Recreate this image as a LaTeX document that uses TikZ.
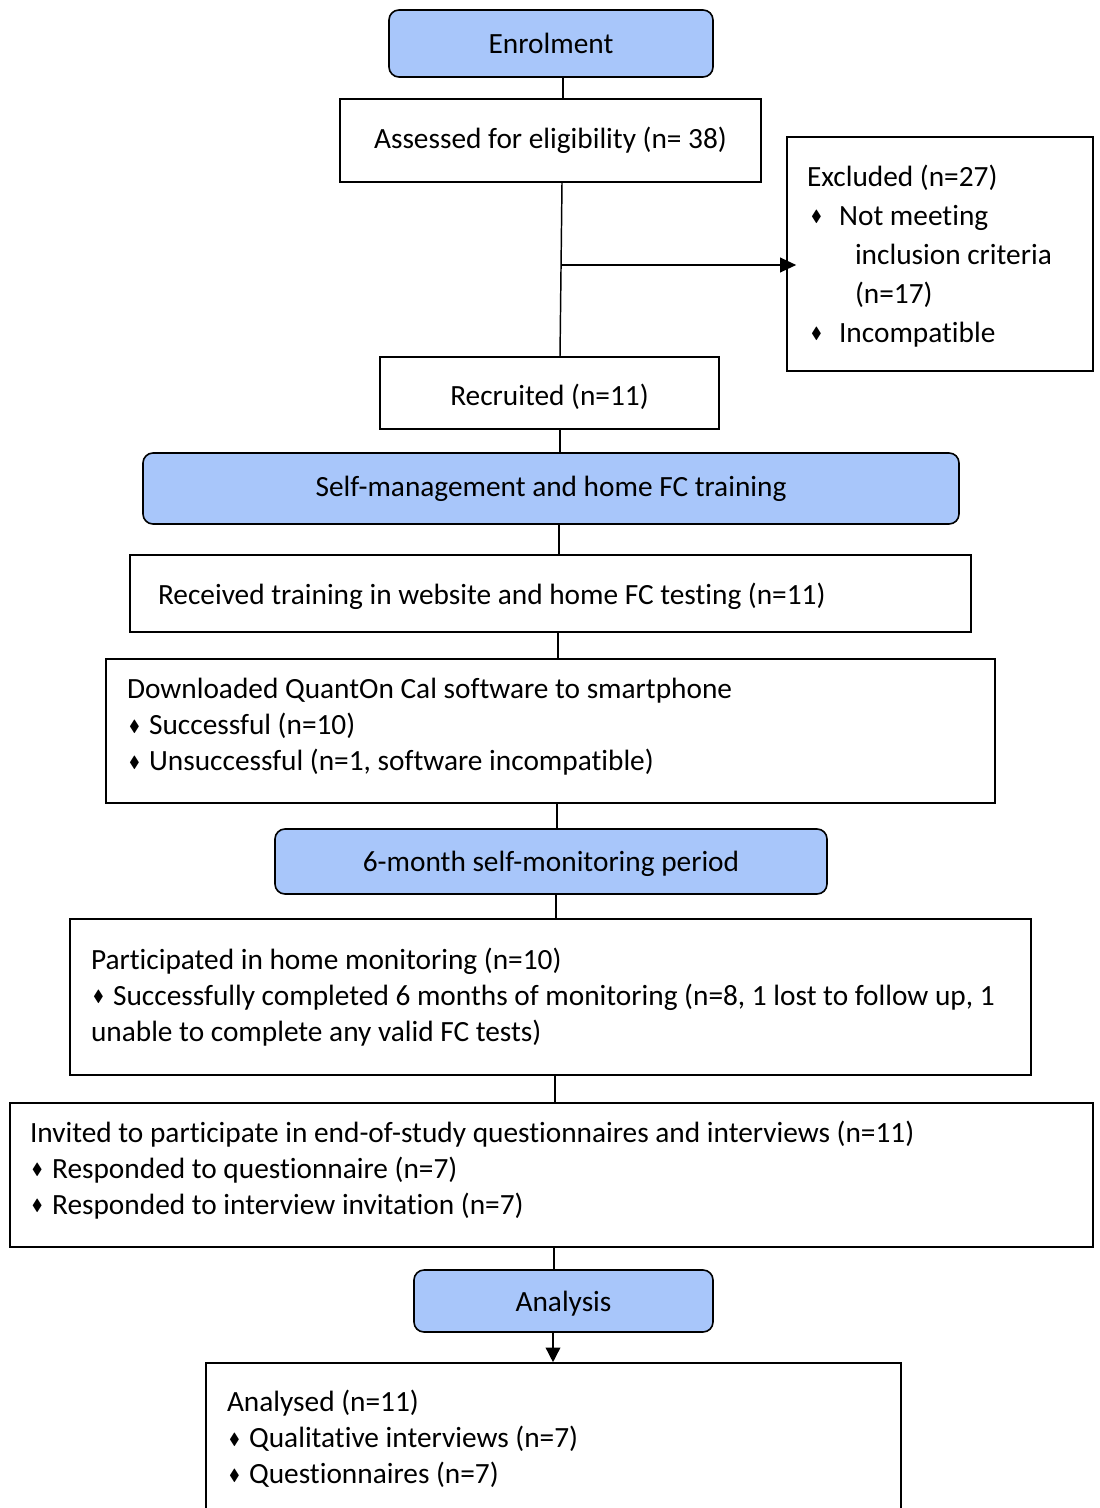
\documentclass[tikz,border=0pt]{standalone}
\usepackage{amssymb}
\usepackage{fontspec}
\setmainfont{Carlito}[Ligatures=NoCommon]
\usetikzlibrary{arrows.meta}
\definecolor{stageblue}{RGB}{168,198,250}
\newcommand{\dmd}{\raisebox{0.25ex}{\scalebox{0.55}{$\blacklozenge$}}}
\newcommand{\bitem}{\hspace*{1.5pt}\dmd\hspace{7pt}}
\newcommand{\padbot}[1]{\par\vspace{#1}\hrule height 0pt}

\begin{document}
\begin{tikzpicture}[x=0.75pt,y=0.75pt,yscale=-1,xscale=1,
  every node/.style={font=\fontsize{22}{27}\selectfont},
  stage/.style={draw, fill=stageblue, rounded corners=7.5pt, line width=1.2pt, inner sep=0pt},
  box/.style={draw, line width=1.2pt, inner sep=0pt},
  listbox/.style={box, align=flush left},
  link/.style={line width=1.1pt}]
            %set diagram left start at 0, and has height of 1508
            \useasboundingbox (0,0) rectangle (1099,1508);

            %Shape: Rounded Rect [id:enrol]
            \node [stage, minimum width=243pt, minimum height=50.25pt] (enrol) at (551,43.5) {Enrolment};
            %Shape: Rectangle [id:assess]
            \node [box, minimum width=315.75pt, minimum height=62.25pt] (assess) at (550.5,140.5) {Assessed for eligibility (n= 38)};
            %Shape: Rectangle [id:excl]
            \node [listbox, minimum width=229.5pt, minimum height=175.5pt, text width=199.5pt,
              font=\fontsize{22}{29.25}\selectfont] (excl) at (940,254)
              {Excluded (n=27)\\
               \hspace*{3pt}\dmd\hspace{13pt}Not meeting\\
               \hspace*{36pt}inclusion criteria\\
               \hspace*{36pt}(n=17)\\
               \hspace*{3pt}\dmd\hspace{13pt}Incompatible\padbot{-3pt}};
            %Shape: Rectangle [id:recr]
            \node [box, minimum width=254.25pt, minimum height=54pt, text height=18.8pt, text depth=0pt] (recr) at (549.5,393) {Recruited (n=11)};

            %Shape: Rounded Rect [id:selfm]
            \node [stage, minimum width=612pt, minimum height=53.25pt] (selfm) at (551,488.5) {Self-management and home FC training};
            %Shape: Rectangle [id:recv]
            \node [listbox, minimum width=630.75pt, minimum height=57.75pt, text width=588.75pt] (recv) at (550.5,593.5)
              {Received training in website and home FC testing (n=11)\padbot{-4.5pt}};
            %Shape: Rectangle [id:down]
            \node [listbox, minimum width=666.75pt, minimum height=108pt, text width=635.25pt] (down) at (550.5,731)
              {Downloaded QuantOn Cal software to smartphone\\
               \bitem Successful (n=10)\\
               \bitem Unsuccessful (n=1, software incompatible)\padbot{6pt}};

            %Shape: Rounded Rect [id:six]
            \node [stage, minimum width=414pt, minimum height=48.75pt, text height=15pt, text depth=0pt] (six) at (551,861.5) {6-month self-monitoring period};
            %Shape: Rectangle [id:part]
            \node [listbox, minimum width=720.75pt, minimum height=117pt, text width=689.25pt] (part) at (550.5,997)
              {Participated in home monitoring (n=10)\\
               \mbox{\bitem Successfully completed 6 months of monitoring (n=8, 1 lost to follow up, 1}\\
               unable to complete any valid FC tests)};
            %Shape: Rectangle [id:invit]
            \node [listbox, minimum width=812.25pt, minimum height=108pt, text width=782.25pt] (invit) at (551.5,1175)
              {Invited to participate in end-of-study questionnaires and interviews (n=11)\\
               \bitem Responded to questionnaire (n=7)\\
               \bitem Responded to interview invitation (n=7)\padbot{7.5pt}};

            %Shape: Rounded Rect [id:anal]
            \node [stage, minimum width=224.25pt, minimum height=46.5pt, text height=15.75pt, text depth=0pt] (anal) at (563.5,1301) {Analysis};
            %Shape: Rectangle [id:anlsd]
            \node [listbox, minimum width=521.25pt, minimum height=114pt, text width=489.75pt] (anlsd) at (553.5,1439)
              {Analysed (n=11)\\
               \bitem Qualitative interviews (n=7)\\
               \bitem Questionnaires (n=7)};

            % Straight Lines
            \draw [link] (enrol.south -| 563,0) -- (assess.north -| 563,0);
            \draw [link] (assess.south -| 562,0) -- (recr.north -| 560,0);
            \coordinate (brk) at (561,265);
            \draw [link, -{Triangle[length=12pt,width=11pt]}, shorten >=-7.5pt] (brk) -- (brk -| excl.west);
            \draw [link] (recr.south -| 560,0) -- (selfm.north -| 560,0);
            \draw [link] (selfm.south -| 559,0) -- (recv.north -| 559,0);
            \draw [link] (recv.south -| 558,0) -- (down.north -| 558,0);
            \draw [link] (down.south -| 557,0) -- (six.north -| 557,0);
            \draw [link] (six.south -| 556,0) -- (part.north -| 556,0);
            \draw [link] (part.south -| 555,0) -- (invit.north -| 555,0);
            \draw [link] (invit.south -| 554,0) -- (anal.north -| 554,0);
            \draw [link, -{Triangle[length=11pt,width=11pt]}] (anal.south -| 553,0) -- (anlsd.north -| 553,0);

\end{tikzpicture}
\end{document}
